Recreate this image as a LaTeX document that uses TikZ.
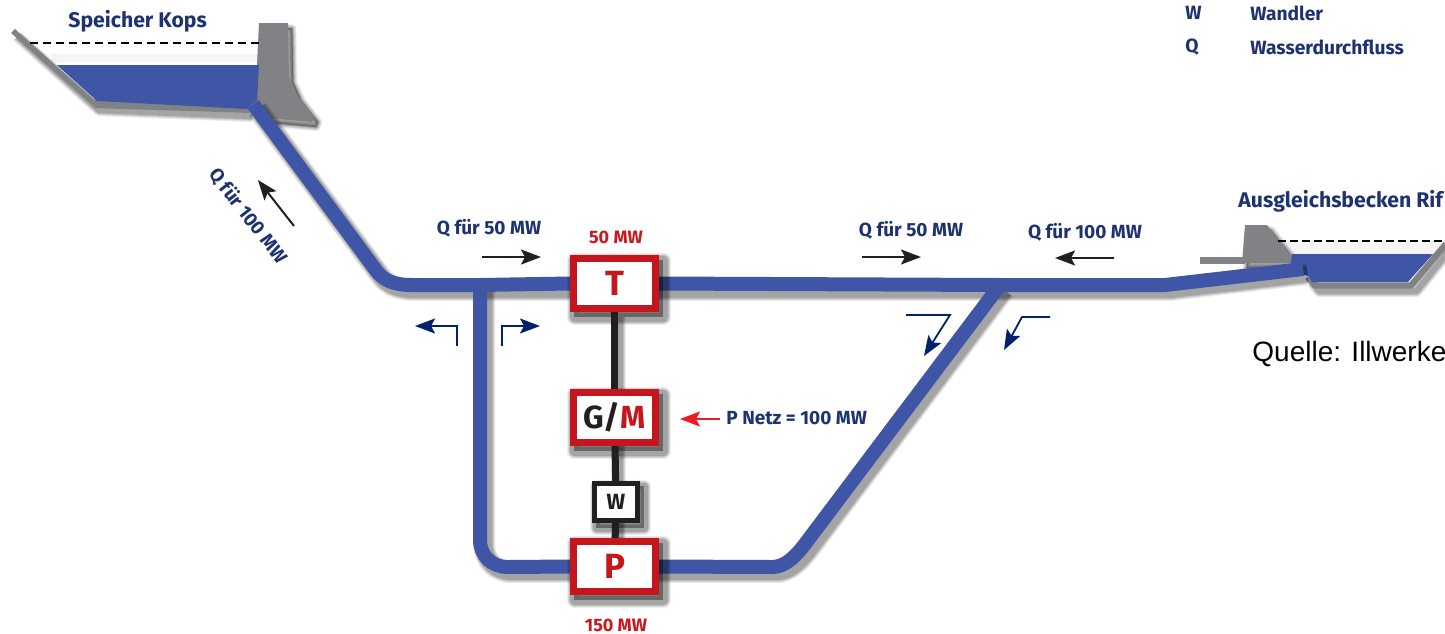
\documentclass[tikz,border=0pt]{standalone}
\usepackage{fontspec}
\setmainfont{Fira Sans}
\newfontfamily\arialfont{Liberation Sans}
\usetikzlibrary{arrows.meta}
\definecolor{pipeblue}{HTML}{3F55A5}
\definecolor{boxred}{HTML}{C4161C}
\definecolor{labelnavy}{HTML}{1D3270}
\definecolor{arrownavy}{HTML}{00226A}
\definecolor{damgrey}{HTML}{808285}
\definecolor{inkblack}{HTML}{231F20}
\definecolor{hotred}{HTML}{ED1C24}
\pgfdeclarelayer{under}
\pgfsetlayers{under,main}
\newcommand\softshadow[2]{%
  \foreach \wd/\op in {4/.07,3/.09,2/.11,1/.14}{%
    \path[draw=black,fill=black,opacity=\op,line join=round,line width=#1pt+\wd pt,transform canvas={shift={(2.2pt,-2.6pt)}}] #2;}}
\newcommand\softline[2]{%
  \foreach \wd/\op in {4/.07,3/.09,2/.11,1/.14}{%
    \path[draw=black,opacity=\op,line join=round,line width=#1pt+\wd pt,transform canvas={shift={(2.2pt,-2.6pt)}}] #2;}}
\tikzset{
  machine/.style={draw=boxred,line width=3.5pt,fill=white,minimum width=41pt,minimum height=25pt,inner sep=0pt,font=\fontsize{17.5}{17.5}\selectfont\bfseries,text=boxred},
  machinegm/.style={machine,font=\fontsize{16}{16}\selectfont\bfseries},
  gearbox/.style={draw=inkblack,line width=2.5pt,fill=white,minimum width=21.5pt,minimum height=18.5pt,inner sep=0pt,font=\fontsize{11}{11}\selectfont\bfseries,text=inkblack},
  pipe/.style={draw=pipeblue,line width=7pt,line join=round},
  shaft/.style={draw=inkblack,line width=3.5pt},
  qlabel/.style={font=\fontsize{9.5}{10}\selectfont\bfseries,text=labelnavy,inner sep=0pt},
  redlabel/.style={font=\fontsize{9}{10}\selectfont\bfseries,text=hotred!85!black,inner sep=0pt},
  title/.style={font=\fontsize{10.6}{11}\selectfont\bfseries,text=labelnavy,inner sep=0pt,anchor=west},
  legend/.style={font=\fontsize{9.6}{10}\selectfont\bfseries,text=labelnavy,inner sep=0pt,anchor=west},
  flow/.style={draw=inkblack,line width=1pt,-{Stealth[length=10pt,width=7.5pt,inset=2pt,fill=inkblack]}},
  bent/.style={draw=arrownavy,line width=.9pt,-{Stealth[length=10pt,width=7.5pt,inset=2pt,fill=arrownavy]}},
  redarrow/.style={draw=hotred,line width=1pt,-{Stealth[length=10pt,width=7.5pt,inset=2pt,fill=hotred]}},
  waterface/.style={fill=pipeblue,draw=none},
  rock/.style={fill=damgrey,draw=none},
  rockline/.style={draw=damgrey,line width=2.8pt,line join=round},
  level/.style={draw=black,line width=1.3pt,dash pattern=on 4pt off 2.5pt},
  levelthin/.style={draw=black,line width=.6pt,dash pattern=on 4pt off 2pt}
}
\begin{document}
\begin{tikzpicture}[x=0.5pt,y=-0.5pt]
\useasboundingbox (0,0) rectangle (1445,633);
% machines
\node[machine] (T) at (614.5,283.5) {T};
\node[machinegm] (GM) at (614.5,417.5) {\textcolor{inkblack}{G/}M};
\node[gearbox] (W) at (616,502) {W};
\node[machine] (P) at (614.5,566.5) {P};
% pipe coordinates
\coordinate (kops) at (253,104);
\coordinate (bendA) at (375,269);
\coordinate (bendAend) at (412,285);
\coordinate (juncL) at (480,285);
\coordinate (juncR) at (1000,285);
\coordinate (bendE) at (1165,285);
\coordinate (rif) at (1303,269);
\coordinate (bendLtop) at (480,540);
\coordinate (bendLend) at (508,567);
\coordinate (bendRend) at (772,567);
\coordinate (bendRtop) at (805,544);
\begin{pgfonlayer}{under}
  \fill[white] (0,0) rectangle (1445,633);
  % upper reservoir
  \fill[black!4] (50,54) -- (259,54) -- (259,62) -- (52,62) -- cycle;
  \softline{2}{(13,31) -- (95,105) -- (248,111)}
  \softshadow{0}{(259,23) -- (288,23) -- (289,77) -- (297,95) -- (314,117) -- (312,122) -- (268,118) -- (250,100) -- (257,65) -- cycle}
  \fill[rock] (92,101) -- (97,98) -- (250,106) -- (250,113) -- (94,108) -- cycle;
  \draw[rockline] (13,31) -- (95,104);
  \fill[rock] (259,23) -- (288,23) -- (289,77) -- (297,95) -- (314,117) -- (312,122) -- (268,118) -- (250,100) -- (257,65) -- cycle;
  \fill[waterface] (57,65) -- (259,65) -- (257,100) -- (247,109) -- (97,101) -- cycle;
  % lower reservoir
  \fill[black!4] (1278,241) -- (1445,241) -- (1445,254) -- (1285,254) -- cycle;
  \softshadow{0}{(1245,225) -- (1267,225) -- (1297,263) -- (1242,263) -- cycle}
  \softline{2}{(1308,277) -- (1315,286) -- (1412,286) -- (1445,245)}
  \draw[rockline,line width=3.2pt] (1308,277) -- (1315,285.5) -- (1411,285.5) -- (1446,244);
  \draw[rockline,line width=3.2pt] (1200,260.5) -- (1245,260.5);
  \fill[rock] (1245,225) -- (1267,225) -- (1297,263) -- (1242,263) -- cycle;
  \fill[waterface] (1292,254) -- (1433,254) -- (1408,282) -- (1312,282) -- (1308,276) -- (1290,270) -- cycle;
  % pipe shadows
  \softline{7}{(kops) -- (bendA) .. controls (383,281) and (395,285) .. (bendAend) -- (juncR) -- (bendE) -- (rif)}
  \softline{7}{(juncL) -- (bendLtop) .. controls (480,556) and (492,567) .. (bendLend) -- (bendRend) .. controls (785,567) and (795,557) .. (bendRtop) -- (juncR)}
  % pipes
  \draw[pipe] (kops) -- (bendA) .. controls (383,281) and (395,285) .. (bendAend) -- (juncL) -- (T.west);
  \draw[pipe] (T.east) -- (juncR) -- (bendE) -- (rif);
  \draw[pipe] (juncL) -- (bendLtop) .. controls (480,556) and (492,567) .. (bendLend) -- (P.west);
  \draw[pipe] (P.east) -- (bendRend) .. controls (785,567) and (795,557) .. (bendRtop) -- (juncR);
  % shaft and box shadows
  \softline{3.5}{(T.south) -- (P.north)}
  \softshadow{3.5}{(T.south west) rectangle (T.north east)}
  \softshadow{3.5}{(GM.south west) rectangle (GM.north east)}
  \softshadow{2.5}{(W.south west) rectangle (W.north east)}
  \softshadow{3.5}{(P.south west) rectangle (P.north east)}
  \draw[shaft] (T) -- (GM);
  \draw[shaft] (GM) -- (W);
  \draw[shaft] (W) -- (P);
  % water level lines
  \draw[level] (30,43) -- (259,43);
  \draw[levelthin] (1278,241) -- (1445,241);
\end{pgfonlayer}
% labels
\node[title] (speicher) at (68,21) {Speicher Kops};
\node[title] (riffsee) at (1238,201) {Ausgleichsbecken Rif};
\node[legend] (lw) at (1185,13) {W};
\node[legend] (lwt) at (1250,13) {Wandler};
\node[legend] (lq) at (1185,47) {Q};
\node[legend] (lqt) at (1250,47) {Wasserdurchfluss};
\node[qlabel,rotate=-52] (q100a) at (248,216) {Q für 100 MW};
\node[qlabel] (q50a) at (489,228) {Q für 50 MW};
\node[redlabel] (p50) at (616,237) {50 MW};
\node[redlabel] (p150) at (616,625) {150 MW};
\node[qlabel] (q50b) at (911,230) {Q für 50 MW};
\node[qlabel] (q100b) at (1085,232) {Q für 100 MW};
\node[qlabel,anchor=west] (netz) at (726,418) {P Netz = 100 MW};
\node[font=\arialfont\fontsize{14}{15}\selectfont,inner sep=0pt,anchor=west,text=black] (quelle) at (1252,354) {Quelle: Illwerke};
% flow arrows
\coordinate (a1s) at (294,226); \coordinate (a1e) at (258,180);
\coordinate (a2s) at (482,257); \coordinate (a2e) at (541,257);
\coordinate (a3s) at (862,257); \coordinate (a3e) at (921,257);
\coordinate (a4s) at (1114,258); \coordinate (a4e) at (1055,258);
\draw[flow] (a1s) -- (a1e);
\draw[flow] (a2s) -- (a2e);
\draw[flow] (a3s) -- (a3e);
\draw[flow] (a4s) -- (a4e);
\coordinate (b1s) at (457,346); \coordinate (b1m) at (457,326); \coordinate (b1e) at (415,326);
\coordinate (b2s) at (502,346); \coordinate (b2m) at (502,326); \coordinate (b2e) at (540,326);
\coordinate (b3s) at (906,315); \coordinate (b3m) at (950,315); \coordinate (b3e) at (924,356);
\coordinate (b4s) at (1050,317); \coordinate (b4m) at (1022,317); \coordinate (b4e) at (1004,350);
\draw[bent] (b1s) -- (b1m) -- (b1e);
\draw[bent] (b2s) -- (b2m) -- (b2e);
\draw[bent] (b3s) -- (b3m) -- (b3e);
\draw[bent] (b4s) -- (b4m) -- (b4e);
\coordinate (redtail) at (720,419);
\coordinate (redtip) at (680,419);
\draw[redarrow] (redtail) -- (redtip);
\end{tikzpicture}
\end{document}
